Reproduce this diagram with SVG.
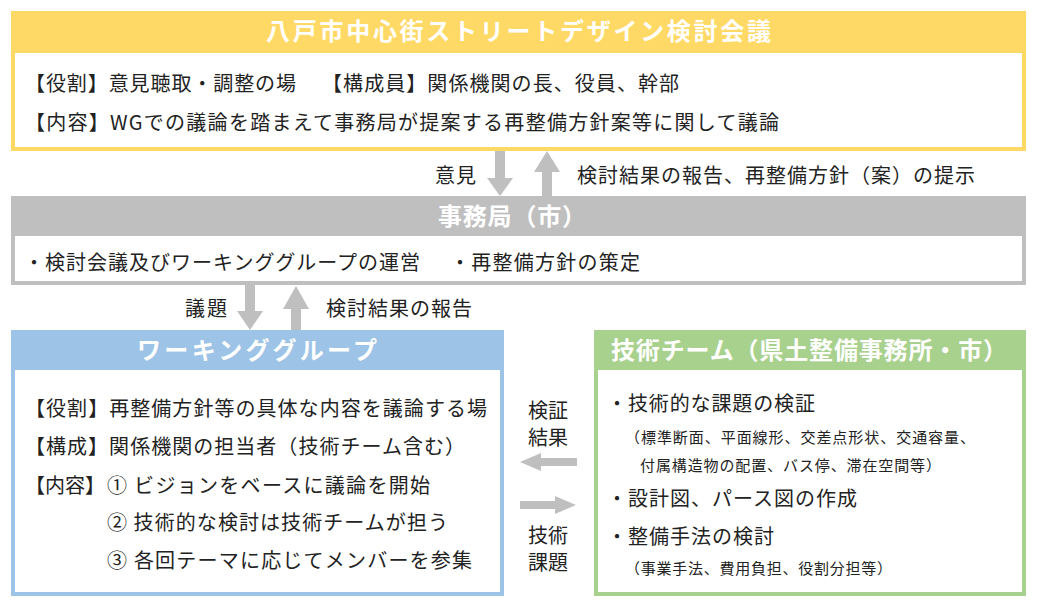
<svg xmlns="http://www.w3.org/2000/svg" width="1040" height="605" viewBox="0 0 1040 605">
<style>
text{font-family:'Noto Sans CJK JP','Noto Sans',sans-serif;fill:#222;}
.b{font-size:20px;}
.s{font-size:15px;}
.h{font-size:24px;font-weight:bold;fill:#fff;}
.w{fill:#fff;}
.arr{fill:#BFBFBF;}
</style>
<rect width="1040" height="605" fill="#fff"/>
<g id="kaigi">
<rect x="11" y="11" width="1015" height="140" fill="#FFD966"/>
<rect class="w" x="15" y="53" width="1007" height="94"/>
<text class="h" x="266" y="40" textLength="505" lengthAdjust="spacing">八戸市中心街ストリートデザイン検討会議</text>
<text class="b" x="25" y="90.5" textLength="271" lengthAdjust="spacing">【役割】意見聴取・調整の場</text>
<text class="b" x="322" y="90.5" textLength="357" lengthAdjust="spacing">【構成員】関係機関の長、役員、幹部</text>
<text class="b" x="25" y="129.5" textLength="754" lengthAdjust="spacing">【内容】WGでの議論を踏まえて事務局が提案する再整備方針案等に関して議論</text>
</g>
<g id="jimukyoku">
<rect x="11" y="196" width="1015" height="89" fill="#BFBFBF"/>
<rect class="w" x="15" y="236" width="1007" height="45"/>
<text class="h" x="438" y="225" textLength="148" lengthAdjust="spacing">事務局（市）</text>
<text class="b" x="24" y="269.5" textLength="396" lengthAdjust="spacing">・検討会議及びワーキンググループの運営</text>
<text class="b" x="450" y="269.5" textLength="190" lengthAdjust="spacing">・再整備方針の策定</text>
</g>
<g id="wg">
<rect x="11" y="330" width="493" height="266" fill="#9DC3E6"/>
<rect class="w" x="15" y="370" width="485" height="222"/>
<text class="h" x="137" y="359" textLength="240" lengthAdjust="spacing">ワーキンググループ</text>
<text class="b" x="25" y="415.5" textLength="462" lengthAdjust="spacing">【役割】再整備方針等の具体な内容を議論する場</text>
<text class="b" x="25" y="453.5" textLength="440" lengthAdjust="spacing">【構成】関係機関の担当者（技術チーム含む）</text>
<text class="b" x="25" y="492.5">【内容】</text>
<text class="b" x="107" y="492.5" textLength="323" lengthAdjust="spacing">① ビジョンをベースに議論を開始</text>
<text class="b" x="107" y="529.5" textLength="341" lengthAdjust="spacing">② 技術的な検討は技術チームが担う</text>
<text class="b" x="107" y="567.5" textLength="365" lengthAdjust="spacing">③ 各回テーマに応じてメンバーを参集</text>
</g>
<g id="gijutsu">
<rect x="594" y="330" width="432" height="266" fill="#A9D18E"/>
<rect class="w" x="598" y="370" width="424" height="222"/>
<text class="h" x="611" y="359" textLength="396" lengthAdjust="spacing">技術チーム（県土整備事務所・市）</text>
<text class="b" x="607" y="410.5" textLength="208" lengthAdjust="spacing">・技術的な課題の検証</text>
<text class="s" x="625" y="442.7" textLength="350" lengthAdjust="spacing">（標準断面、平面線形、交差点形状、交通容量、</text>
<text class="s" x="640" y="470.7" textLength="301" lengthAdjust="spacing">付属構造物の配置、バス停、滞在空間等）</text>
<text class="b" x="607" y="505.5" textLength="250" lengthAdjust="spacing">・設計図、パース図の作成</text>
<text class="b" x="607" y="543.5" textLength="167" lengthAdjust="spacing">・整備手法の検討</text>
<text class="s" x="625" y="573.7" textLength="267" lengthAdjust="spacing">（事業手法、費用負担、役割分担等）</text>
</g>
<g id="connectors">
<polygon class="arr" points="495,151 505,151 505,178 513,178 500,196 487,178 495,178"/>
<polygon class="arr" points="547,151 560,172 552,172 552,196 542,196 542,172 534,172"/>
<polygon class="arr" points="245,285 255,285 255,311 263,311 250,330 237,311 245,311"/>
<polygon class="arr" points="296,286 309,309 301,309 301,330 291,330 291,309 283,309"/>
<polygon class="arr" points="520,462 541,453 541,458 577,458 577,466 541,466 541,471"/>
<polygon class="arr" points="520,501 555,501 555,496 576,505 555,514 555,509 520,509"/>
<text class="b" x="435" y="182.5" textLength="41" lengthAdjust="spacing">意見</text>
<text class="b" x="577" y="182.5" textLength="398" lengthAdjust="spacing">検討結果の報告、再整備方針（案）の提示</text>
<text class="b" x="185" y="315.5" textLength="42" lengthAdjust="spacing">議題</text>
<text class="b" x="326" y="315.5" textLength="146" lengthAdjust="spacing">検討結果の報告</text>
<text class="b" x="528" y="417.5" textLength="40" lengthAdjust="spacing">検証</text>
<text class="b" x="528" y="444.5" textLength="40" lengthAdjust="spacing">結果</text>
<text class="b" x="528" y="542.5" textLength="40" lengthAdjust="spacing">技術</text>
<text class="b" x="528" y="569.5" textLength="40" lengthAdjust="spacing">課題</text>
</g>
</svg>
